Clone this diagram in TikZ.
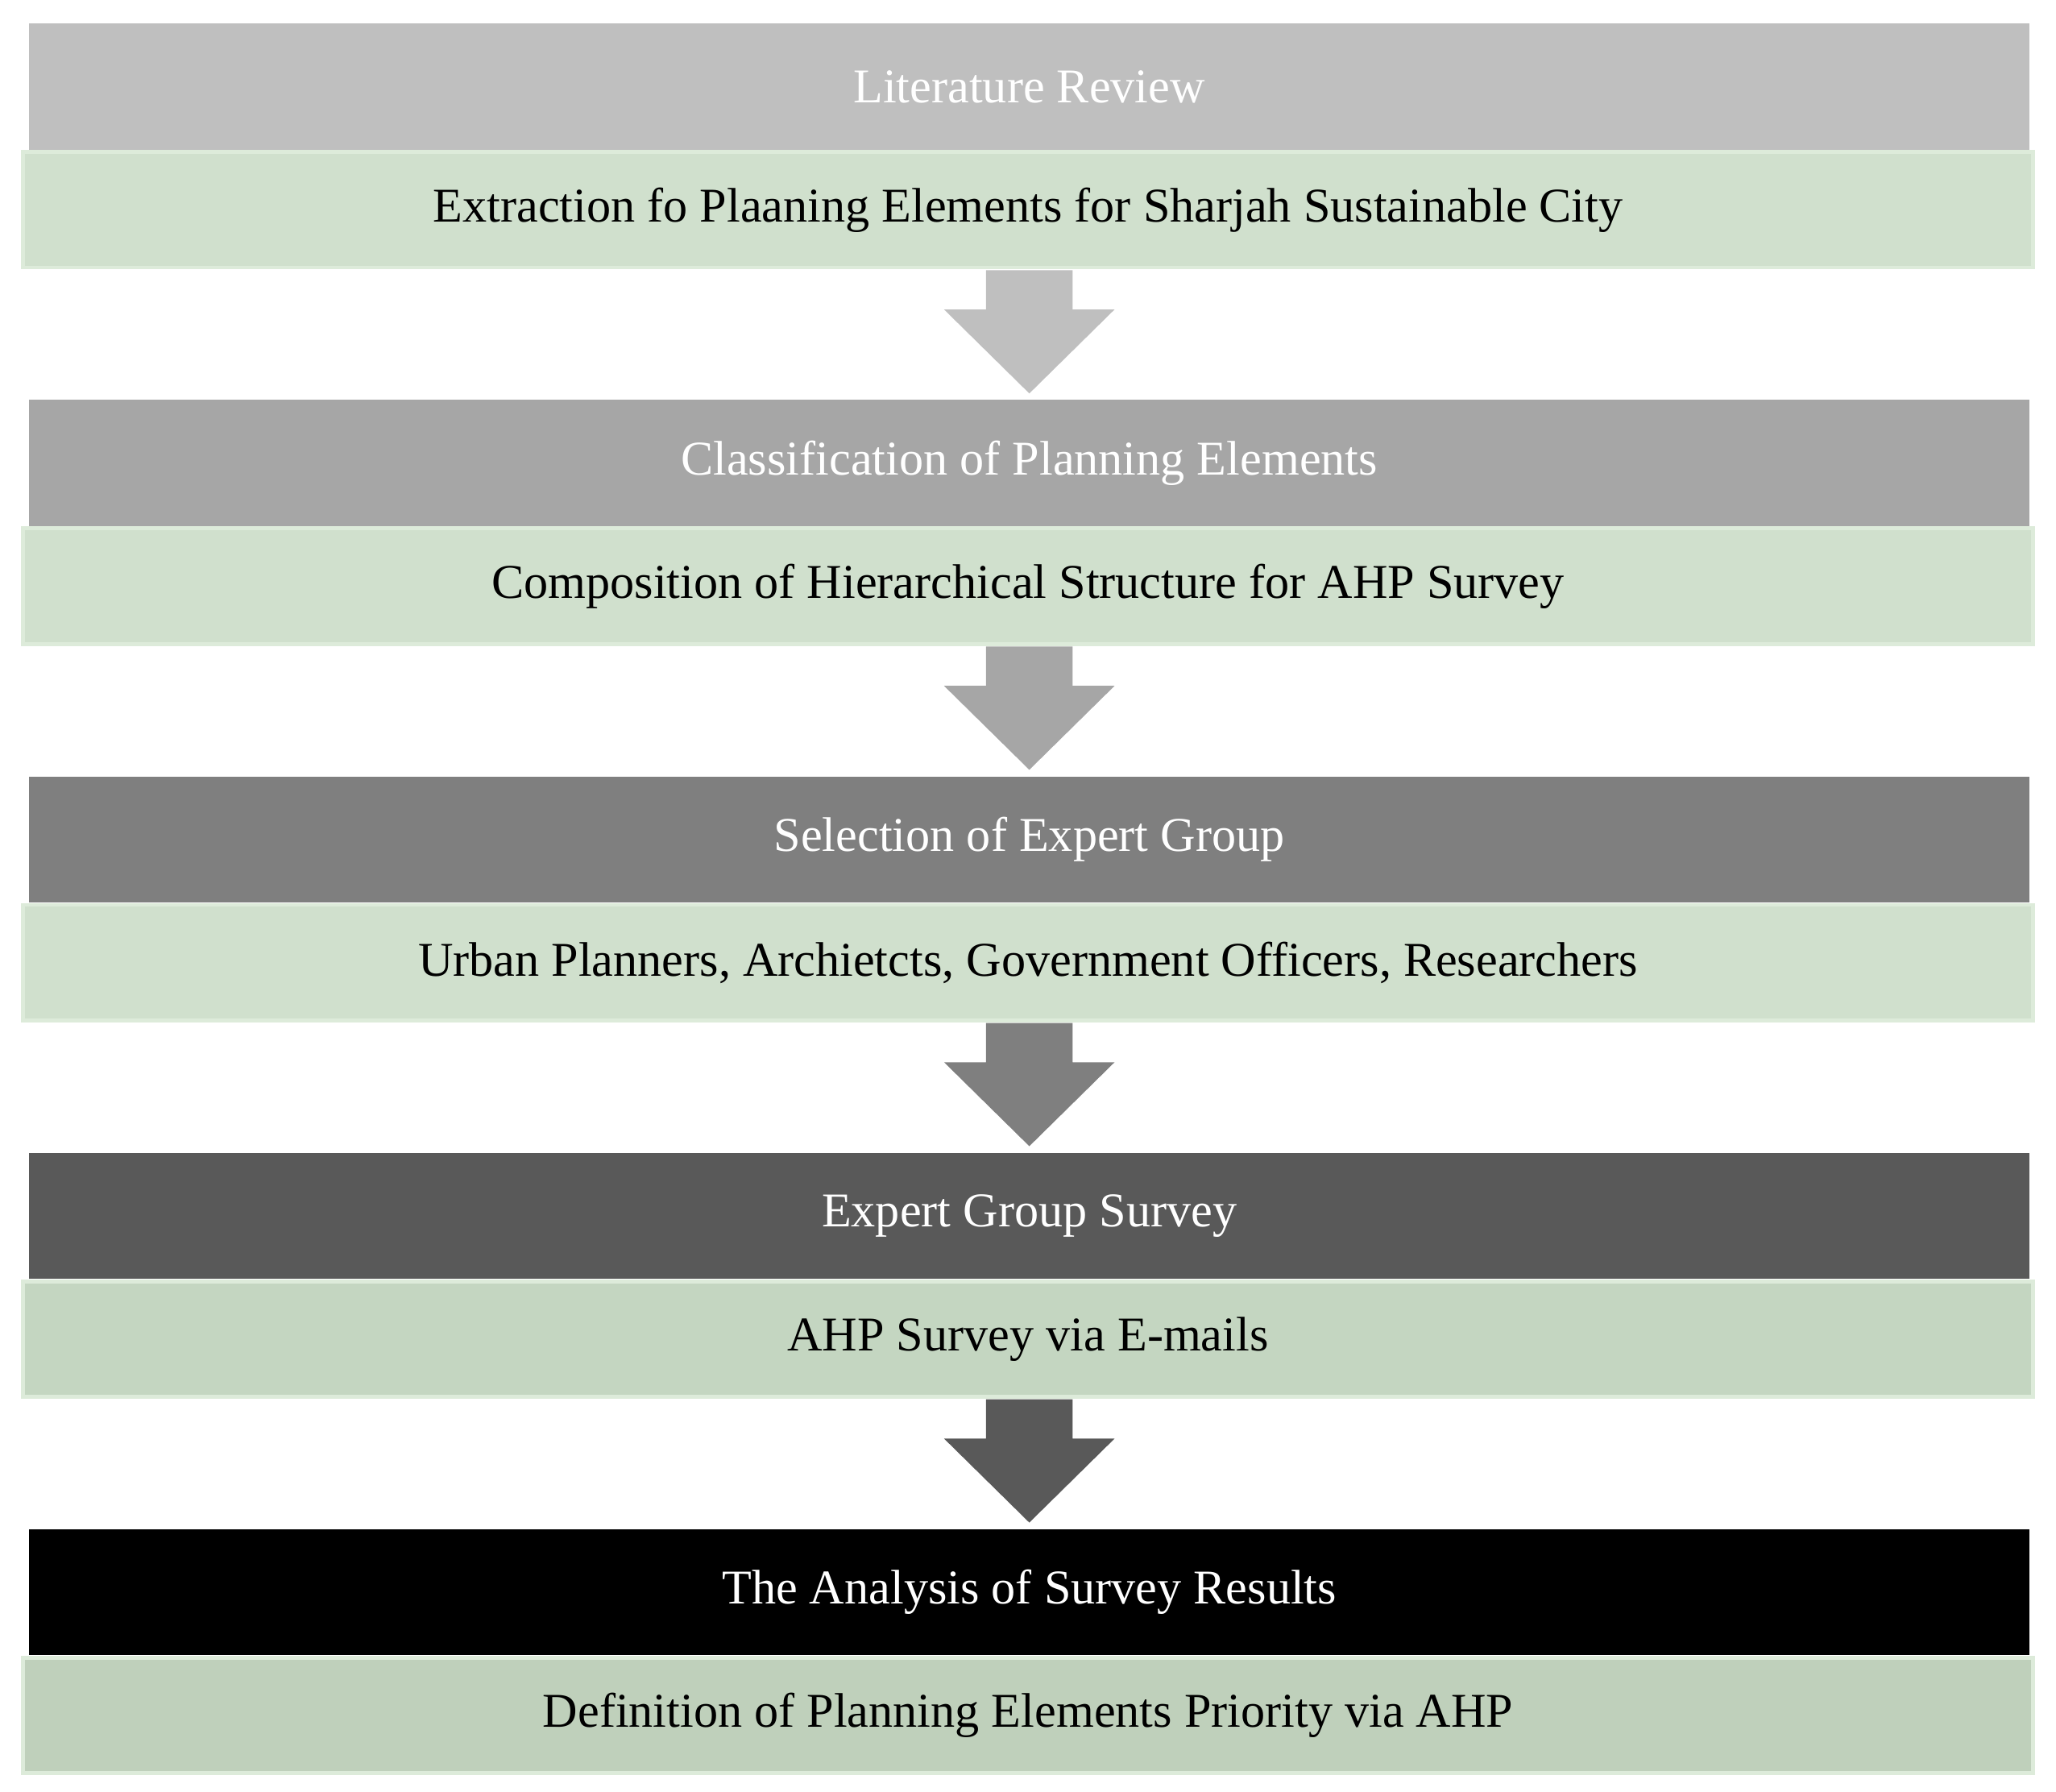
\documentclass[tikz,border=0pt]{standalone}
\usepackage{fontspec}
\setmainfont{Liberation Serif}
\begin{document}
\begin{tikzpicture}[x=1pt,y=-1pt,
 hdr/.style={draw=none,minimum width=1526pt,minimum height=96pt,inner sep=0pt,font=\fontsize{37}{40}\selectfont,text=white},
 grn/.style={draw=#1,line width=3pt,fill=green!10!gray!25,minimum width=1533pt,minimum height=88pt,inner sep=0pt,font=\fontsize{37}{40}\selectfont},
]
\useasboundingbox (0,0) rectangle (1568,1366);
\definecolor{g}{HTML}{D0E0CD}\definecolor{gb}{HTML}{DDEBDA}
\definecolor{g5}{HTML}{BFD0BB}\definecolor{g4}{HTML}{C4D6C1}
\definecolor{c1}{HTML}{BFBFBF}\definecolor{c2}{HTML}{A6A6A6}\definecolor{c3}{HTML}{7F7F7F}\definecolor{c4}{HTML}{595959}\definecolor{c5}{HTML}{000000}
\def\per{287}
\foreach \i/\c/\f/\h/\t in {0/c1/g/Literature Review/Extraction fo Plaaning Elements for Sharjah Sustainable City,
1/c2/g/Classification of Planning Elements/Composition of Hierarchical Structure for AHP Survey,
2/c3/g/Selection of Expert Group/{Urban Planners, Archietcts, Government Officers, Researchers},
3/c4/g4/Expert Group Survey/AHP Survey via E-mails,
4/c5/g5/The Analysis of Survey Results/Definition of Planning Elements Priority via AHP}{
 \node[hdr,fill=\c] (h\i) at (785,{66+\i*\per}) {\h};
 \node[grn=gb,fill=\f] (b\i) at (784,{160+\i*\per}) {\t};
}
\foreach \i/\c in {0/c1,1/c2,2/c3,3/c4}{
 \fill[\c] (752,{206+\i*\per}) -- (818,{206+\i*\per}) -- (818,{236+\i*\per}) -- (850,{236+\i*\per}) -- (785,{300+\i*\per}) -- (720,{236+\i*\per}) -- (752,{236+\i*\per}) -- cycle;
}
\end{tikzpicture}
\end{document}
